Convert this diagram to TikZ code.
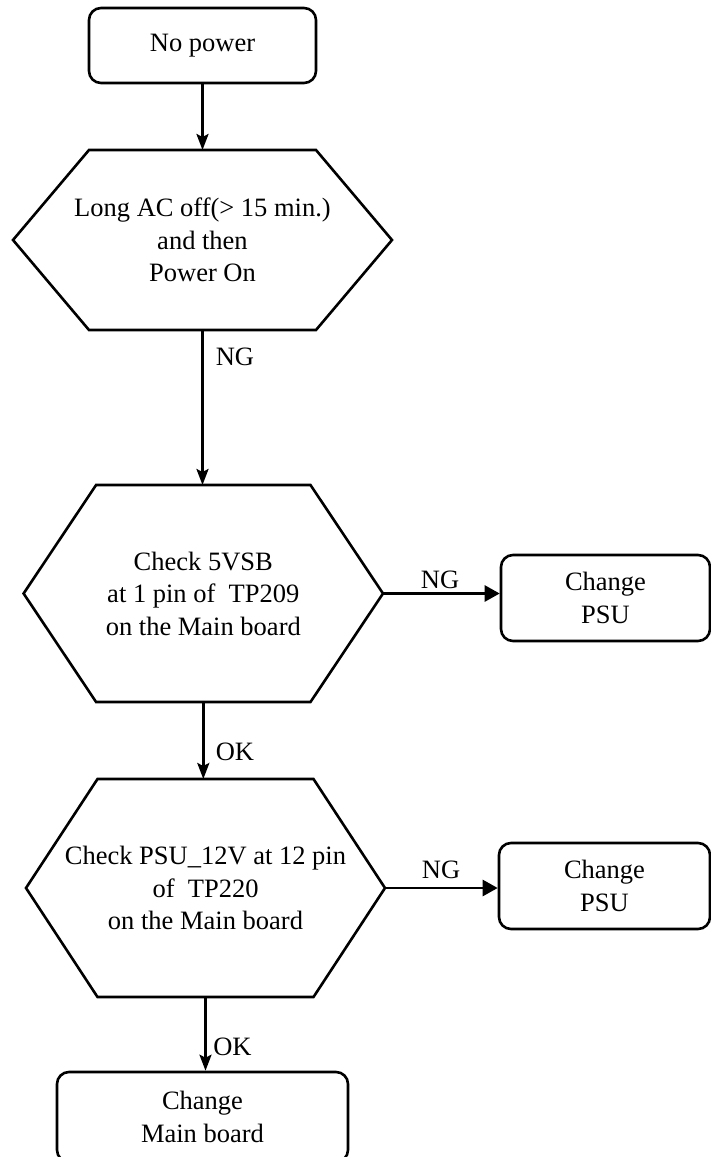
\documentclass[tikz,border=0pt]{standalone}
\usepackage{fontspec}
\setmainfont{Liberation Serif}
\usetikzlibrary{arrows.meta,calc}
\newcommand\hexframe[2]{%
  \draw (#1.west) -- ($(#1.north west)+(#2,0)$) -- ($(#1.north east)+(-#2,0)$)
    -- (#1.east) -- ($(#1.south east)+(-#2,0)$) -- ($(#1.south west)+(#2,0)$) -- cycle;}
\begin{document}
\begin{tikzpicture}[x=1pt,y=-1pt,line width=2.6pt,
  txt/.style={font=\fontsize{26.5}{32.5}\selectfont,align=center,inner sep=0pt},
  roundbox/.style={txt,draw,rounded corners=12pt},
  hexnode/.style={txt,outer sep=0pt},
  lbl/.style={font=\fontsize{26.5}{30}\selectfont,inner sep=0pt},
  varrow/.style={-{Stealth[length=16pt,width=12pt,inset=3pt]}},
  harrow/.style={-{Triangle[length=15pt,width=16pt]}}]
\useasboundingbox (0,0) rectangle (711,1157);
% nodes
\node[roundbox,minimum width=227pt,minimum height=75pt] (start) at (202.5,45.5) {No power};
\node[hexnode,minimum width=379pt,minimum height=180pt] (h1) at (202.5,240)
  {Long AC off(> 15 min.)\\and then\\Power On};
\node[hexnode,minimum width=359.4pt,minimum height=217pt] (h2) at (203.3,593.5)
  {Check 5VSB\\at 1 pin of~~TP209\\on the Main board};
\node[hexnode,minimum width=359pt,minimum height=218pt] (h3) at (205.5,888)
  {Check PSU\_12V at 12 pin\\of~~TP220\\on the Main board};
\node[roundbox,minimum width=209pt,minimum height=86pt] (psu1) at (605.5,598) {Change\\PSU};
\node[roundbox,minimum width=211pt,minimum height=86pt] (psu2) at (604.5,886) {Change\\PSU};
\node[roundbox,minimum width=291pt,minimum height=90pt] (main) at (202.5,1117) {Change\\Main board};
% hexagon outlines
\hexframe{h1}{76}
\hexframe{h2}{72.5}
\hexframe{h3}{71.5}
% labels
\node[lbl] (ng1) at (235,357) {NG};
\node[lbl] (ok1) at (235,752) {OK};
\node[lbl] (ok2) at (232.5,1047) {OK};
\node[lbl] (ng2) at (440,580) {NG};
\node[lbl] (ng3) at (441,870) {NG};
% connectors
\draw[varrow] (start) -- (h1.north);
\draw[varrow] (h1.south) -- (h1.south |- h2.north);
\draw[harrow] (h2.east) -- (h2.east -| psu1.west);
\draw[varrow] (h2.south) -- (h2.south |- h3.north);
\draw[harrow] (h3.east) -- (h3.east -| psu2.west);
\draw[varrow] (h3.south) -- (h3.south |- main.north);
\end{tikzpicture}
\end{document}
